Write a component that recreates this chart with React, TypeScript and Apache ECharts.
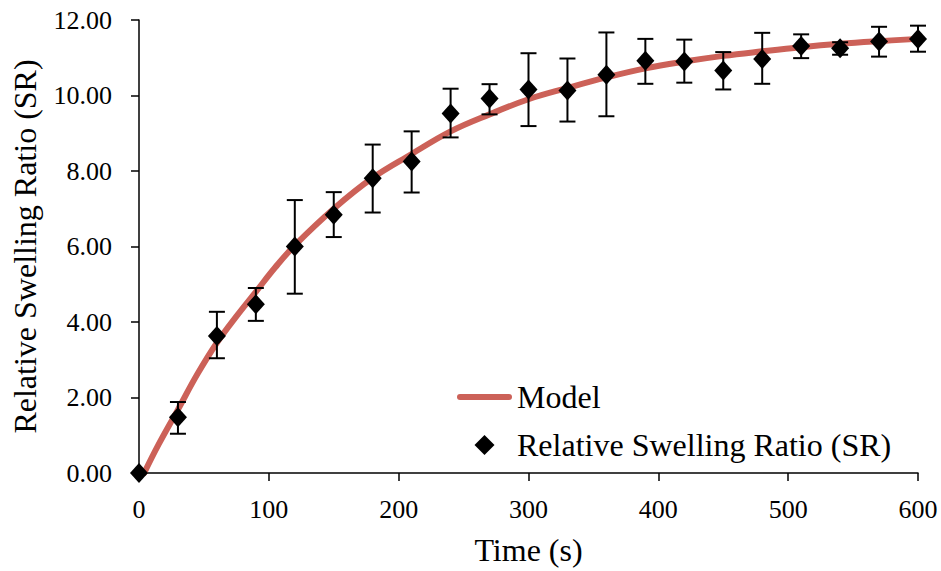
import React, { useEffect, useRef } from "react";
import * as echarts from "echarts";

// Measured data: time (s), mean relative swelling ratio, error bar low/high
const times = [0, 30, 60, 90, 120, 150, 180, 210, 240, 270, 300, 330, 360, 390, 420, 450, 480, 510, 540, 570, 600];
const srValues = [0, 1.48, 3.63, 4.47, 6.0, 6.84, 7.81, 8.25, 9.52, 9.92, 10.16, 10.13, 10.55, 10.92, 10.9, 10.66, 10.97, 11.31, 11.25, 11.43, 11.5];
const errLow = [0, 1.04, 3.04, 4.03, 4.75, 6.25, 6.9, 7.43, 8.89, 9.5, 9.19, 9.31, 9.45, 10.31, 10.34, 10.16, 10.31, 10.99, 11.08, 11.03, 11.16];
const errHigh = [0, 1.88, 4.27, 4.9, 7.23, 7.44, 8.7, 9.05, 10.18, 10.3, 11.12, 10.98, 11.67, 11.5, 11.48, 11.15, 11.66, 11.62, 11.41, 11.82, 11.85];

// Model curve
const modelTimes = [4, 15, 30, 45, 60, 75, 90, 105, 120, 150, 180, 210, 240, 270, 300, 330, 360, 390, 420, 450, 480, 510, 540, 570, 600];
const modelValues = [0, 0.75, 1.68, 2.62, 3.45, 4.15, 4.8, 5.45, 6.03, 7.0, 7.82, 8.45, 9.05, 9.5, 9.9, 10.2, 10.48, 10.72, 10.9, 11.05, 11.17, 11.28, 11.37, 11.44, 11.5];

const xTicks = ["0", "100", "200", "300", "400", "500", "600"];
const seriesNames = ["Model", "Relative Swelling Ratio (SR)"];

const FONT = "Liberation Serif";

export default function App() {
  const ref = useRef<HTMLDivElement>(null);

  useEffect(() => {
    if (!ref.current) return;
    document.body.style.margin = "0";
    const chart = echarts.init(ref.current, null, { renderer: "svg" });

    const modelData = modelTimes.map((t, i) => [t, modelValues[i]]);
    const srData = times.map((t, i) => [t, srValues[i]]);
    const errData = times.map((t, i) => [t, errLow[i], errHigh[i]]);

    chart.setOption({
      animation: false,
      backgroundColor: "#ffffff",
      textStyle: { fontFamily: FONT, color: "#000" },
      grid: { left: 139, right: 23, top: 20, bottom: 96, containLabel: false },
      legend: {
        orient: "vertical",
        left: 452,
        top: 375,
        itemWidth: 55,
        itemHeight: 20,
        itemGap: 14,
        symbolKeepAspect: true,
        textStyle: { fontFamily: FONT, fontSize: 32, color: "#000", lineHeight: 34 },
        data: [
          { name: seriesNames[0], icon: "path://M3,0 L52,0 A3,3 0 0 1 52,6 L3,6 A3,3 0 0 1 3,0 Z" },
          { name: seriesNames[1], icon: "path://M0,10 L10,0 L20,10 L10,20 Z" },
        ],
      },
      xAxis: {
        type: "value",
        min: 0,
        max: 600,
        interval: 100,
        name: "Time (s)",
        nameLocation: "middle",
        nameGap: 61,
        nameTextStyle: { fontFamily: FONT, fontSize: 32, color: "#000" },
        axisLine: { show: true, lineStyle: { color: "#000", width: 1.5 } },
        axisTick: { show: true, inside: false, length: 8, lineStyle: { color: "#000", width: 1.5 } },
        axisLabel: {
          fontFamily: FONT,
          fontSize: 26,
          color: "#000",
          margin: 23,
          formatter: (v: number) => xTicks[Math.round(v / 100)] ?? String(v),
        },
        splitLine: { show: false },
      },
      yAxis: {
        type: "value",
        min: 0,
        max: 12,
        interval: 2,
        name: "Relative Swelling Ratio (SR)",
        nameLocation: "middle",
        nameGap: 98,
        nameTextStyle: { fontFamily: FONT, fontSize: 32, color: "#000" },
        axisLine: { show: true, lineStyle: { color: "#000", width: 1.5 } },
        axisTick: { show: true, inside: false, length: 8, lineStyle: { color: "#000", width: 1.5 } },
        axisLabel: {
          fontFamily: FONT,
          fontSize: 26,
          color: "#000",
          margin: 27,
          formatter: (v: number) => v.toFixed(2),
        },
        splitLine: { show: false },
      },
      series: [
        {
          name: seriesNames[0],
          type: "line",
          data: modelData,
          smooth: 0.4,
          showSymbol: false,
          symbol: "none",
          lineStyle: { color: "#CC6158", width: 6, cap: "round" },
          itemStyle: { color: "#CC6158" },
          z: 2,
        },
        {
          name: "errorbars",
          type: "custom",
          data: errData,
          encode: { x: 0, y: [1, 2] },
          z: 3,
          renderItem: (params: any, api: any) => {
            const x = api.value(0);
            const lo = api.coord([x, api.value(1)]);
            const hi = api.coord([x, api.value(2)]);
            const half = 8;
            const style = { stroke: "#000", lineWidth: 2 };
            return {
              type: "group",
              children: [
                { type: "line", shape: { x1: lo[0], y1: lo[1], x2: hi[0], y2: hi[1] }, style },
                { type: "line", shape: { x1: hi[0] - half, y1: hi[1], x2: hi[0] + half, y2: hi[1] }, style },
                { type: "line", shape: { x1: lo[0] - half, y1: lo[1], x2: lo[0] + half, y2: lo[1] }, style },
              ],
            };
          },
        },
        {
          name: seriesNames[1],
          type: "scatter",
          data: srData,
          symbol: "diamond",
          symbolSize: [18, 20],
          itemStyle: { color: "#000", opacity: 1 },
          z: 4,
        },
      ],
    });

    return () => chart.dispose();
  }, []);

  return <div ref={ref} style={{ width: 941, height: 571 }} />;
}
